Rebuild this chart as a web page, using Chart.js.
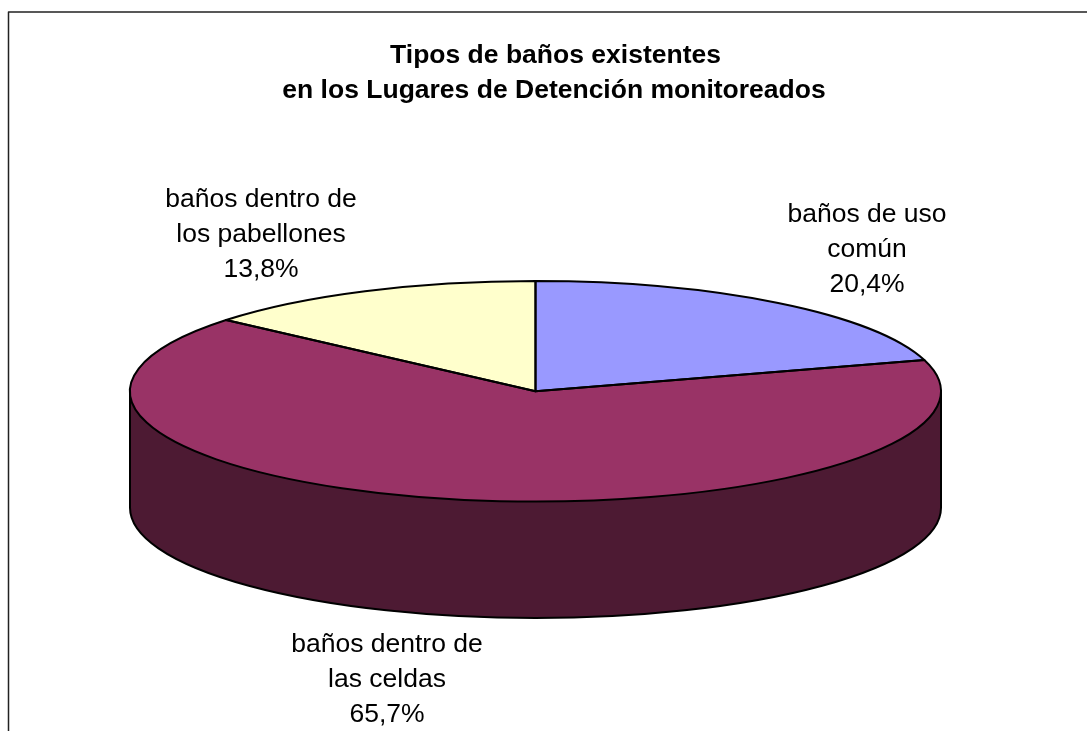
<!DOCTYPE html>
<html lang="es">
<head>
<meta charset="utf-8">
<title>Tipos de baños existentes</title>
<script src="https://cdn.jsdelivr.net/npm/chart.js@4/dist/chart.umd.js"></script>
<style>
    html, body { margin: 0; background: #fff; overflow: hidden; }
    canvas { display: block; }
</style>
</head>
<body>
<canvas id="pieChart" width="1087" height="731"></canvas>
<script>
const categories = ['baños de uso común', 'baños dentro de las celdas', 'baños dentro de los pabellones'];
const values = [20.4, 65.7, 13.8];
const sliceColors = ['#9999ff', '#993366', '#ffffcc'];
const sideColor = '#4d1a33';
const titleLines = ['Tipos de baños existentes', 'en los Lugares de Detención monitoreados'];
const labelLines = [
    ['baños de uso', 'común', '20,4%'],
    ['baños dentro de', 'las celdas', '65,7%'],
    ['baños dentro de', 'los pabellones', '13,8%']
];

// the pie is drawn flat by Chart.js and squashed here to look like the 3D one
const radius = 405.5;
const squash = 110.3 / 405.5;
const depth = 116.5;
// x centre and baseline of the first line of each label
const labelAnchors = [[867, 222], [387, 652], [261, 207]];
const labelLineHeight = 34.8;

const tiltPlugin = {
    id: 'tilt',
    beforeDatasetsDraw(chart) {
        const ctx = chart.ctx;
        const arc = chart.getDatasetMeta(0).data[0];
        const rx = arc.outerRadius;
        const ry = rx * squash;

        // side wall under the front half
        ctx.save();
        ctx.beginPath();
        ctx.moveTo(arc.x - rx, arc.y);
        ctx.lineTo(arc.x - rx, arc.y + depth);
        ctx.ellipse(arc.x, arc.y + depth, rx, ry, 0, Math.PI, 0, true);
        ctx.lineTo(arc.x + rx, arc.y);
        ctx.closePath();
        ctx.fillStyle = sideColor;
        ctx.fill();
        ctx.lineWidth = 2;
        ctx.strokeStyle = '#000';
        ctx.stroke();
        ctx.restore();

        ctx.save();
        ctx.translate(arc.x, arc.y);
        ctx.scale(1, squash);
        ctx.translate(-arc.x, -arc.y);
    },
    afterDatasetsDraw(chart) {
        const ctx = chart.ctx;
        ctx.restore();

        // outlines go here so the line width is not squashed with the fill
        chart.getDatasetMeta(0).data.forEach(arc => {
            ctx.beginPath();
            ctx.moveTo(arc.x, arc.y);
            ctx.ellipse(arc.x, arc.y, arc.outerRadius, arc.outerRadius * squash, 0, arc.startAngle, arc.endAngle);
            ctx.closePath();
            ctx.lineWidth = 2;
            ctx.lineJoin = 'round';
            ctx.strokeStyle = '#000';
            ctx.stroke();
        });
    },
    afterDraw(chart) {
        const ctx = chart.ctx;
        ctx.save();
        ctx.fillStyle = '#000';
        ctx.textAlign = 'center';
        ctx.textBaseline = 'alphabetic';

        ctx.font = 'bold 26.5px "Liberation Sans", Arial, sans-serif';
        ctx.fillText(titleLines[0], 555.5, 63);
        ctx.fillText(titleLines[1], 554, 98);

        ctx.font = '26.5px "Liberation Sans", Arial, sans-serif';
        labelLines.forEach((lines, i) => {
            lines.forEach((line, j) => {
                ctx.fillText(line, labelAnchors[i][0], labelAnchors[i][1] + j * labelLineHeight);
            });
        });

        // frame runs off the right and bottom of the picture
        ctx.beginPath();
        ctx.moveTo(8.5, 731);
        ctx.lineTo(8.5, 12);
        ctx.lineTo(1087, 12);
        ctx.lineWidth = 1.5;
        ctx.strokeStyle = '#222';
        ctx.stroke();
        ctx.restore();
    }
};

new Chart(document.getElementById('pieChart'), {
    type: 'pie',
    data: {
        labels: categories,
        datasets: [{
            data: values,
            backgroundColor: sliceColors,
            borderWidth: 0,
            clip: false
        }]
    },
    options: {
        responsive: false,
        animation: false,
        radius: radius,
        layout: {
            padding: { left: 0, right: 16, top: 51.6, bottom: 0 }
        },
        plugins: {
            legend: { display: false },
            tooltip: { enabled: false }
        }
    },
    plugins: [tiltPlugin]
});
</script>
</body>
</html>
